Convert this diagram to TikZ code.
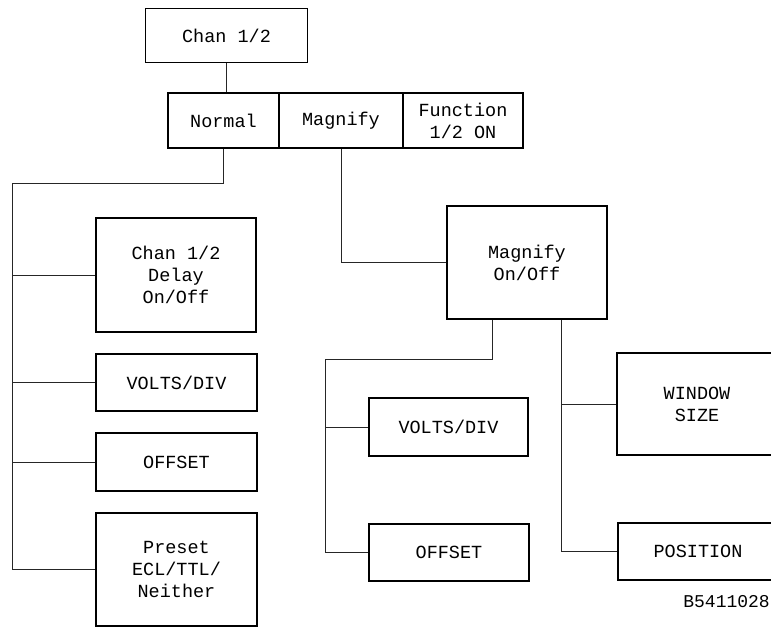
\documentclass[tikz,border=0pt]{standalone}
\usepackage{fontspec}
\setmonofont{Liberation Mono}
\usepackage{tikz}
\usetikzlibrary{calc}
\tikzset{
  menu/.style={draw=black,line width=1.5pt,align=center,inner sep=0pt,
               font=\ttfamily\fontsize{18.5}{22}\selectfont},
  link/.style={draw=black!85,line width=.7pt},
  tag/.style={font=\ttfamily\fontsize{18}{20}\selectfont,anchor=east,inner sep=0pt}
}
\begin{document}
\begin{tikzpicture}[x=1pt,y=-1pt]
  \clip (0,0) rectangle (771,627);
  % Top level and soft key row
  \node[menu,minimum width=162pt,minimum height=54pt] (chan) at (226.5,35.5) {Chan 1/2};
  \node[menu,minimum width=111pt,minimum height=55pt] (normal) at (223.5,120.5) {Normal};
  \node[menu,minimum width=124pt,minimum height=55pt] (magnify) at (341,120.5) {Magnify};
  \node[menu,minimum width=120pt,minimum height=55pt] (func) at (463,120.5) {Function\\1/2 ON};

  % Normal branch
  \node[menu,minimum width=160pt,minimum height=114pt] (delay) at (176,275) {Chan 1/2\\Delay\\On/Off};
  \node[menu,minimum width=161pt,minimum height=57pt] (voltsL) at (176.5,382.5) {VOLTS/DIV};
  \node[menu,minimum width=161pt,minimum height=58pt] (offsetL) at (176.5,462) {OFFSET};
  \node[menu,minimum width=161pt,minimum height=113pt] (preset) at (176.5,569.5) {Preset\\ECL/TTL/\\Neither};

  % Magnify branch
  \node[menu,minimum width=160pt,minimum height=113pt] (magon) at (527,262.5) {Magnify\\On/Off};
  \node[menu,minimum width=159pt,minimum height=58pt] (voltsR) at (448.5,427) {VOLTS/DIV};
  \node[menu,minimum width=160pt,minimum height=57pt] (offsetR) at (449,552.5) {OFFSET};
  \node[menu,minimum width=160pt,minimum height=102pt] (window) at (697,404) {WINDOW\\SIZE};
  \node[menu,minimum width=160pt,minimum height=57pt] (position) at (698,551.5) {POSITION};

  \node[tag] (fig) at (770,602) {B5411028};

  % Connectors
  \draw[link] (chan.south) -- (chan.south |- normal.north);
  \coordinate (lbus) at (12,183);
  \draw[link] (normal.south) |- (lbus) -- (lbus |- preset.west);
  \foreach \n in {delay,voltsL,offsetL,preset}
    \draw[link] (lbus |- \n.west) -- (\n.west);
  \draw[link] (magnify.south) |- (magon.west);
  \coordinate (mdrop) at ($(magon.south west)+(46,0)$);
  \coordinate (mbus) at (325,359);
  \draw[link] (mdrop) |- (mbus) -- (mbus |- offsetR.west);
  \foreach \n in {voltsR,offsetR}
    \draw[link] (mbus |- \n.west) -- (\n.west);
  \coordinate (rbus) at ($(magon.south west)+(115,0)$);
  \draw[link] (rbus) -- (rbus |- position.west);
  \foreach \n in {window,position}
    \draw[link] (rbus |- \n.west) -- (\n.west);
\end{tikzpicture}
\end{document}
